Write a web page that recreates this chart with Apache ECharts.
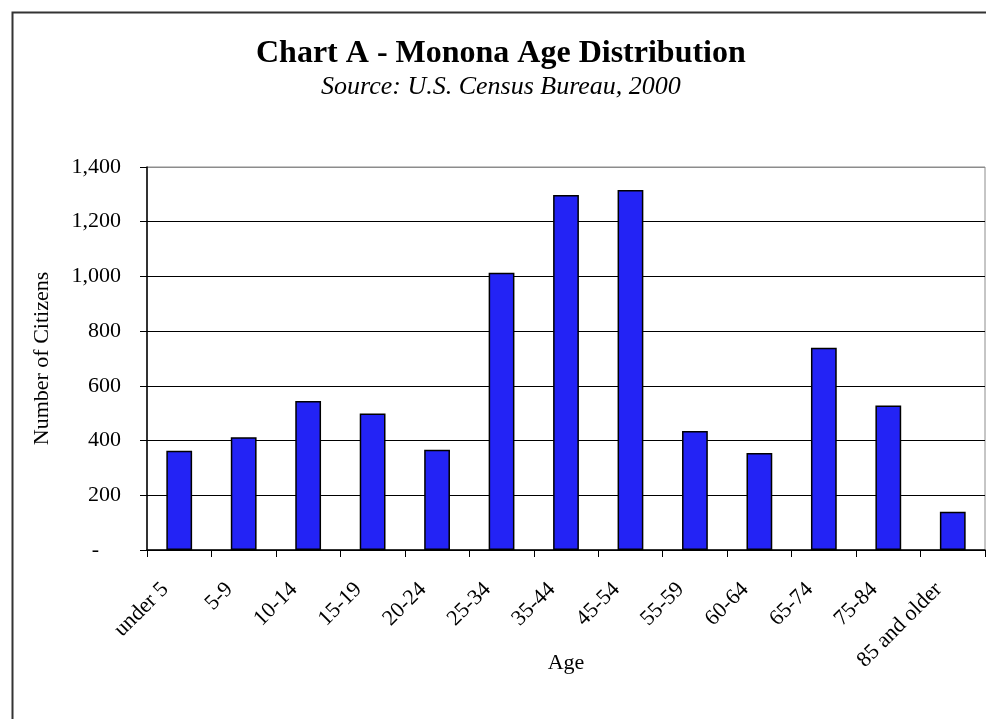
<!DOCTYPE html>
<html>
<head>
<meta charset="utf-8">
<script src="https://cdn.jsdelivr.net/npm/echarts@6/dist/echarts.min.js"></script>
<style>html,body{margin:0;padding:0;background:#fff}#c{width:986px;height:719px}</style>
</head>
<body>
<div id="c"></div>
<script>
const categories = ['under 5','5-9','10-14','15-19','20-24','25-34','35-44','45-54','55-59','60-64','65-74','75-84','85 and older'];
const citizens = [363, 412, 545, 499, 366, 1013, 1298, 1316, 435, 355, 739, 528, 140];
const yTicks = [0, 200, 400, 600, 800, 1000, 1200, 1400];
const titleText = 'Chart A - Monona Age Distribution';
const subtitleText = 'Source: U.S. Census Bureau, 2000';
const xName = 'Age';
const yName = 'Number of Citizens';

const serif = '"Liberation Serif", "DejaVu Serif", serif';
const chart = echarts.init(document.getElementById('c'), null, {renderer: 'canvas'});
const splitColors = yTicks.map((v, i) => i === yTicks.length - 1 ? '#8c8c8c' : '#000');

chart.setOption({
  animation: false,
  backgroundColor: '#fff',
  graphic: [{
    type: 'rect', left: 10, top: 10, z: -10, silent: true,
    shape: {x: 0, y: 0, width: 1100, height: 800},
    style: {fill: 'none', stroke: '#333', lineWidth: 2}
  }],
  title: [{
    text: titleText, left: 256, top: 38, padding: 0,
    textStyle: {fontFamily: serif, fontWeight: 'bold', fontSize: 32, color: '#000'}
  }, {
    text: subtitleText, left: 321, top: 74, padding: 0,
    textStyle: {fontFamily: serif, fontStyle: 'italic', fontWeight: 'normal', fontSize: 26, color: '#000'}
  }],
  grid: {
    left: 147, right: 1, top: 167, bottom: 169,
    show: true, borderColor: '#8c8c8c', borderWidth: 1, backgroundColor: 'transparent',
    outerBoundsMode: 'none'
  },
  xAxis: {
    type: 'category', data: categories,
    name: xName, nameLocation: 'middle', nameGap: 102, nameMoveOverlap: false,
    nameTextStyle: {fontFamily: serif, fontSize: 22, color: '#000'},
    axisLine: {lineStyle: {color: '#000', width: 1.5}},
    axisTick: {show: true, length: 7, inside: false, alignWithLabel: false, lineStyle: {color: '#000'}},
    axisLabel: {rotate: 45, interval: 0, margin: 22, padding: [0, 20, 0, 0], fontFamily: serif, fontSize: 22, color: '#000'}
  },
  yAxis: {
    type: 'value', min: 0, max: 1400, interval: 200,
    name: yName, nameLocation: 'middle', nameGap: 94, nameMoveOverlap: false,
    nameTextStyle: {fontFamily: serif, fontSize: 22, color: '#000'},
    axisLine: {show: true, lineStyle: {color: '#000', width: 1.5}},
    axisTick: {show: true, length: 7, inside: false, lineStyle: {color: '#000'}},
    splitLine: {show: true, lineStyle: {color: splitColors, width: 1}},
    axisLabel: {
      margin: 26, fontFamily: serif, fontSize: 22, color: '#000',
      formatter: v => v === 0 ? '{d|-}' : v.toLocaleString('en-US'),
      rich: {d: {fontFamily: serif, fontSize: 22, color: '#000', padding: [0, 22, 0, 0]}}
    }
  },
  series: [{
    type: 'bar', data: citizens, barCategoryGap: '60%',
    itemStyle: {color: '#2323f5', borderColor: '#000', borderWidth: 1.5}
  }]
});
</script>
</body>
</html>
